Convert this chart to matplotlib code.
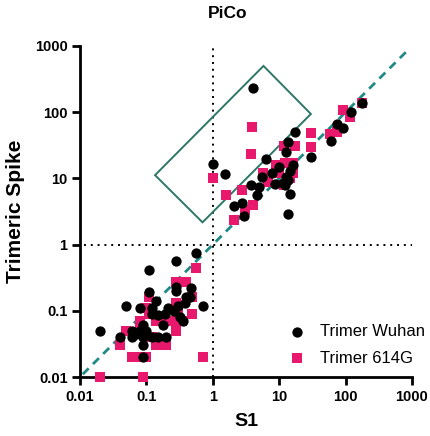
import numpy as np
import matplotlib
matplotlib.use("Agg")
import matplotlib.pyplot as plt
from matplotlib.patches import Polygon

plt.rcParams["font.family"] = ["Liberation Sans", "DejaVu Sans"]

# Trimer Wuhan (S1, Trimeric Spike)
wuhan_s1 = [4, 175, 120, 73, 91, 60, 17, 13.6, 12.8, 30, 6.3, 1.0, 1.55, 16, 14.5,
            7.8, 10, 5.5, 3.7, 5.0, 4.6, 2.1, 2.8, 3.0, 8.5, 13.6, 12.2, 14.5, 13.6,
            12.8, 11.5,
            0.11, 0.28, 0.55, 0.05, 0.08, 0.11, 0.02, 0.04, 0.7, 0.47, 0.28, 0.28,
            0.4, 0.14, 0.12, 0.12, 0.15, 0.19, 0.21, 0.26, 0.32, 0.35, 0.38, 0.45,
            0.06, 0.07, 0.08, 0.09, 0.1, 0.06, 0.09, 0.12, 0.15, 0.2, 0.18, 0.09,
            0.09, 0.3]
wuhan_spike = [230, 140, 100, 66, 57, 37, 51, 36, 25, 21, 19.5, 16.5, 11.6, 16, 13,
               12, 15, 10.5, 7.9, 7.5, 5.6, 3.8, 4.3, 2.7, 8.1, 9.4, 7.9, 5.8, 2.9,
               10.5, 8.4,
               0.42, 0.57, 0.75, 0.12, 0.11, 0.19, 0.05, 0.04, 0.12, 0.22, 0.23, 0.2,
               0.16, 0.14, 0.11, 0.09, 0.085, 0.09, 0.11, 0.1, 0.08, 0.07, 0.13, 0.16,
               0.05, 0.045, 0.05, 0.06, 0.05, 0.04, 0.04, 0.04, 0.04, 0.04, 0.06, 0.03,
               0.02, 0.12]

# Trimer 614G
g614_s1 = [3.85, 3.7, 91, 115, 73, 30, 30, 17, 12, 1.0, 1.56, 2.8, 2.1, 3.05, 4.0,
           5.8, 6.7, 8.8, 10, 12.2, 16, 16, 14.5, 12, 58, 175,
           0.55, 0.28, 0.39, 0.11, 0.02, 0.09, 0.7, 0.04, 0.06, 0.07, 0.1, 0.05,
           0.08, 0.11, 0.14, 0.17, 0.2, 0.14, 0.19, 0.25, 0.34, 0.28, 0.28, 0.48,
           0.48, 0.12, 0.08, 0.1, 0.3]
g614_spike = [60, 23, 108, 85, 51, 48, 30, 31, 31, 10, 5.7, 6.6, 2.35, 3.3, 4.0,
              12, 8.9, 16, 12, 17, 17, 12, 10, 8, 47, 140,
              0.44, 0.27, 0.27, 0.16, 0.01, 0.01, 0.02, 0.03, 0.02, 0.02, 0.02, 0.05,
              0.07, 0.09, 0.03, 0.03, 0.03, 0.07, 0.07, 0.07, 0.07, 0.05, 0.13, 0.16,
              0.09, 0.04, 0.05, 0.11, 0.1]

ticks = [0.01, 0.1, 1, 10, 100, 1000]
tick_labels = ["0.01", "0.1", "1", "10", "100", "1000"]

# caja resaltada (esquinas en coordenadas de datos)
box_x = [5.8, 30, 0.70, 0.135]
box_y = [500, 94, 2.17, 11.2]

fig = plt.figure(figsize=(4.30, 4.36), dpi=100)
ax = fig.add_axes([80 / 430, 59 / 436, 332 / 430, 331 / 436])
ax.set_xscale("log")
ax.set_yscale("log")
ax.set_xlim(0.01, 1000)
ax.set_ylim(0.01, 1000)

ax.plot([0.011, 900], [0.011, 900], ls=(0, (3, 2.2)), color="#1f8a86", lw=2, zorder=1)
ax.plot([1, 1], [0.01, 1000], ls=(0, (1, 2.5)), color="black", lw=1.4, zorder=1)
ax.plot([0.0115, 1000], [1, 1], ls=(0, (1, 2.5)), color="black", lw=1.4, zorder=1)

ax.add_patch(Polygon(list(zip(box_x, box_y)), closed=True, fill=False,
                     edgecolor="#2e7767", lw=1.4, zorder=2))

ax.scatter(g614_s1, g614_spike, marker="s", s=48, color="#e8186d", lw=0,
           label="Trimer 614G", zorder=3, clip_on=False)
ax.scatter(wuhan_s1, wuhan_spike, marker="o", s=55, color="black", lw=0,
           label="Trimer Wuhan", zorder=4, clip_on=False)

ax.set_xticks(ticks)
ax.set_xticklabels(tick_labels)
ax.set_yticks(ticks)
ax.set_yticklabels(tick_labels)
ax.minorticks_off()
for s in ["top", "right"]:
    ax.spines[s].set_visible(False)
for s in ["left", "bottom"]:
    ax.spines[s].set_linewidth(2)
ax.tick_params(width=2, length=6, labelsize=10.5, pad=3)
for lab in ax.get_xticklabels() + ax.get_yticklabels():
    lab.set_fontweight("bold")

ax.set_xlabel("S1", fontsize=14, fontweight="bold", labelpad=7)
ax.set_ylabel("Trimeric Spike", fontsize=15, fontweight="bold", labelpad=7)
fig.text(228 / 430, 1 - 13 / 436, "PiCo", ha="center", va="center",
         fontsize=12.5, fontweight="bold")

handles, labels = ax.get_legend_handles_labels()
ax.legend(handles[::-1], labels[::-1], loc="center left", bbox_to_anchor=(0.608, 0.097),
          frameon=False, fontsize=12, handlelength=1, handletextpad=0.9,
          labelspacing=0.68, borderaxespad=0)

fig.savefig("out.png", dpi=100)
